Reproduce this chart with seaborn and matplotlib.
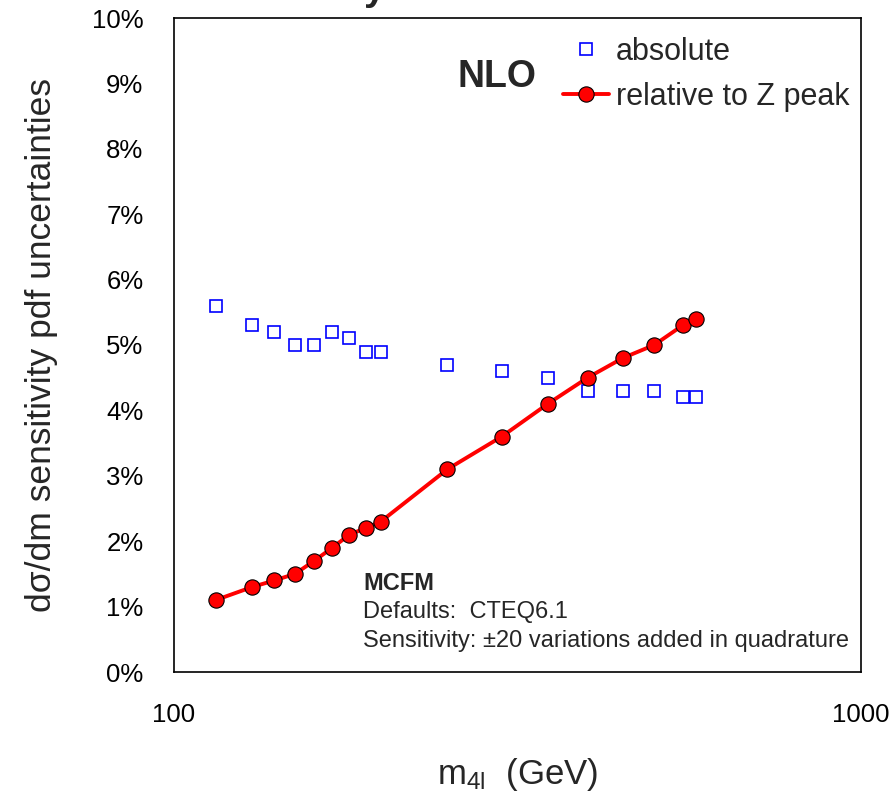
import numpy as np
import pandas as pd
import matplotlib
matplotlib.use("Agg")
import matplotlib.pyplot as plt
import seaborn as sns
from matplotlib.ticker import FixedLocator, FuncFormatter, NullFormatter

# ---- data ----
mass = [115, 130, 140, 150, 160, 170, 180, 190, 200, 250, 300, 350, 400, 450, 500, 550, 575]
absolute = [5.6, 5.3, 5.2, 5.0, 5.0, 5.2, 5.1, 4.9, 4.9, 4.7, 4.6, 4.5, 4.3, 4.3, 4.3, 4.2, 4.2]
relative = [1.1, 1.3, 1.4, 1.5, 1.7, 1.9, 2.1, 2.2, 2.3, 3.1, 3.6, 4.1, 4.5, 4.8, 5.0, 5.3, 5.4]
y_ticks = [0, 1, 2, 3, 4, 5, 6, 7, 8, 9, 10]
x_major = [100, 1000]
x_minor = [200, 300, 400, 500, 600, 700, 800, 900]

sns.set_style("white")
plt.rcParams['font.family'] = ['Liberation Sans', 'DejaVu Sans']
plt.rcParams['mathtext.fontset'] = 'custom'
plt.rcParams['mathtext.rm'] = 'Liberation Sans'
plt.rcParams['mathtext.default'] = 'regular'

df = pd.DataFrame({"mass": mass, "absolute": absolute, "relative": relative})

fig = plt.figure(figsize=(8.93, 7.95), dpi=100)
ax = fig.add_axes([174/893, 1-672/795, (861-174)/893, (672-18)/795])

sns.lineplot(data=df, x="mass", y="absolute", ax=ax, marker='s', linestyle='none',
             markersize=8.5, markerfacecolor='none', markeredgecolor='#0000ff',
             markeredgewidth=1.2, color='#0000ff', label='absolute')
sns.lineplot(data=df, x="mass", y="relative", ax=ax, marker='o', color='#ff0000',
             linewidth=2.8, markersize=11, markerfacecolor='#ff0000',
             markeredgecolor='black', markeredgewidth=0.8, label='relative to Z peak')

ax.set_xscale('log')
ax.set_xlim(100, 1000)
ax.set_ylim(0, 10)
ax.xaxis.set_major_locator(FixedLocator(x_major))
ax.xaxis.set_minor_locator(FixedLocator(x_minor))
ax.xaxis.set_major_formatter(FuncFormatter(lambda v, p: f"{v:.0f}"))
ax.xaxis.set_minor_formatter(NullFormatter())
ax.yaxis.set_major_locator(FixedLocator(y_ticks))
ax.yaxis.set_major_formatter(FuncFormatter(lambda v, p: f"{v:.0f}%"))
ax.tick_params(axis='both', which='major', direction='in', length=9, width=1,
               labelsize=18.5, colors='#555555', labelcolor='black')
ax.tick_params(axis='x', which='major', pad=22)
ax.tick_params(axis='y', which='major', pad=22)
ax.tick_params(axis='x', which='minor', direction='in', length=6, width=1, colors='#555555')
for s in ax.spines.values():
    s.set_color('black')
    s.set_linewidth(1.2)

ax.set_xlabel("m$_{4l}$  (GeV)", fontsize=25, labelpad=21)
ax.set_ylabel("dσ/dm sensitivity pdf uncertainties", fontsize=25.5, labelpad=24)

ax.text(0.47, 0.91, "NLO", transform=ax.transAxes, fontsize=27, fontweight='bold',
        ha='center', va='center')
ax.text(0.275, 0.136, "MCFM", transform=ax.transAxes, fontsize=17, fontweight='bold',
        ha='left', va='center')
ax.text(0.275, 0.092, "Defaults:  CTEQ6.1", transform=ax.transAxes, fontsize=17,
        ha='left', va='center')
ax.text(0.275, 0.048, "Sensitivity: ±20 variations added in quadrature", transform=ax.transAxes,
        fontsize=17, ha='left', va='center')

ax.legend(loc='upper left', bbox_to_anchor=(0.548, 0.99), frameon=False, fontsize=22,
          handlelength=1.5, handletextpad=0.25, labelspacing=0.5, borderaxespad=0)

fig.text(386/893, 1.0, "PDF Uncertainty", fontsize=28, fontweight='bold',
         ha='right', va='baseline')

fig.savefig("out.png", dpi=100)
